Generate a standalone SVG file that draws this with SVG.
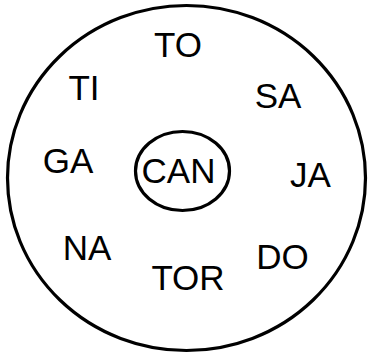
<svg xmlns="http://www.w3.org/2000/svg" width="369" height="356" viewBox="0 0 369 356">
<style>
.ring{fill:none;stroke:#000;stroke-width:3.2}
.lbl{font-family:"Liberation Sans",Arial,sans-serif;font-size:35px;fill:#000;text-anchor:middle}
</style>
<rect width="369" height="356" fill="#fff"/>
<g id="outer"><ellipse class="ring" cx="186.5" cy="178" rx="179" ry="172.5"/></g>
<g id="TO"><text class="lbl" x="178" y="57">TO</text></g>
<g id="TI"><text class="lbl" x="84" y="100">TI</text></g>
<g id="SA"><text class="lbl" x="278" y="108">SA</text></g>
<g id="GA"><text class="lbl" x="68" y="173">GA</text></g>
<g id="CAN"><ellipse class="ring" cx="182.5" cy="171" rx="47" ry="39.5"/><text class="lbl" x="178.5" y="183">CAN</text></g>
<g id="JA"><text class="lbl" x="310.5" y="187">JA</text></g>
<g id="NA"><text class="lbl" x="87" y="260">NA</text></g>
<g id="TOR"><text class="lbl" x="188" y="290">TOR</text></g>
<g id="DO"><text class="lbl" x="282.5" y="269">DO</text></g>
</svg>
